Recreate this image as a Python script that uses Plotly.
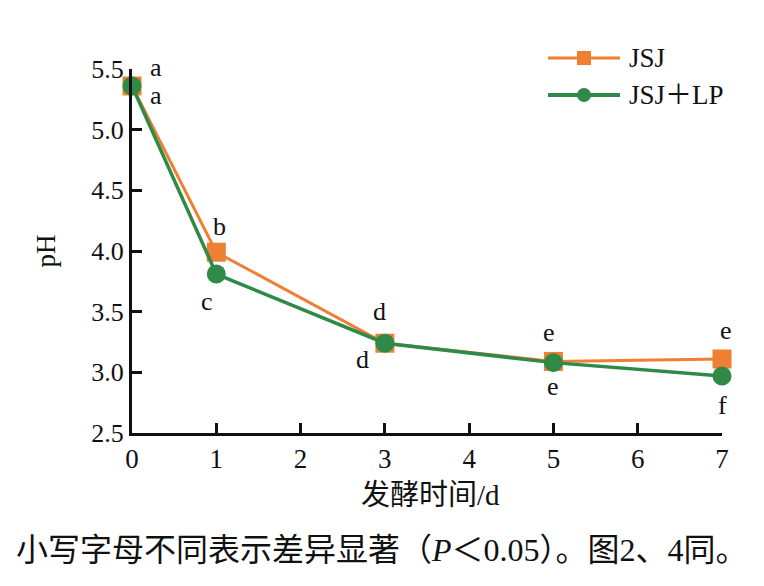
import plotly.graph_objects as go

days = [0, 1, 3, 5, 7]
jsj = [5.36, 3.99, 3.24, 3.09, 3.11]
jsj_lp = [5.36, 3.81, 3.24, 3.08, 2.97]
jsj_letters = ["a", "b", "d", "e", "e"]
lp_letters = ["a", "c", "d", "e", "f"]
series_names = ["JSJ", "JSJ＋LP"]
y_ticks = [2.5, 3.0, 3.5, 4.0, 4.5, 5.0, 5.5]
x_ticks = [0, 1, 2, 3, 4, 5, 6, 7]

ORANGE = "#EE7F33"
GREEN = "#2E8A46"
FONT = "'Liberation Serif', 'Noto Sans CJK SC', serif"
INK = "#111111"

fig = go.Figure()
fig.add_trace(go.Scatter(x=days, y=jsj, name=series_names[0], mode="lines+markers",
                         line=dict(color=ORANGE, width=3),
                         marker=dict(symbol="square", size=19, color=ORANGE),
                         cliponaxis=False, showlegend=False))
fig.add_trace(go.Scatter(x=days, y=jsj_lp, name=series_names[1], mode="lines+markers",
                         line=dict(color=GREEN, width=3.5),
                         marker=dict(symbol="circle", size=19, color=GREEN),
                         cliponaxis=False, showlegend=False))

# significance letters (pixel offsets from each point)
jsj_off = [(24, 18), (3, 26), (-5, 32), (-4, 29), (4, 28)]
lp_off = [(24, -10), (-9, -27), (-22, -16), (0, -24), (0, -30)]
for x, y, t, (dx, dy) in zip(days, jsj, jsj_letters, jsj_off):
    fig.add_annotation(x=x, y=y, text=t, showarrow=False, xshift=dx, yshift=dy,
                       font=dict(size=26, color=INK, family=FONT))
for x, y, t, (dx, dy) in zip(days, jsj_lp, lp_letters, lp_off):
    fig.add_annotation(x=x, y=y, text=t, showarrow=False, xshift=dx, yshift=dy,
                       font=dict(size=26, color=INK, family=FONT))

# manual legend (paper coords)
W, H = 764 - 132 - 42, 586 - 69 - 153
def px(xp):
    return (xp - 132) / W
def py(yp):
    return (586 - 153 - yp) / H
legend_rows = [(58, ORANGE, "square", series_names[0]), (95, GREEN, "circle", series_names[1])]
for yy, col, sym, name in legend_rows:
    fig.add_shape(type="line", xref="paper", yref="paper", x0=px(548), x1=px(620),
                  y0=py(yy), y1=py(yy), line=dict(color=col, width=4 if sym == "circle" else 3))
    fig.add_shape(type="rect" if sym == "square" else "circle", xref="paper", yref="paper",
                  xsizemode="pixel", ysizemode="pixel", xanchor=px(584), yanchor=py(yy),
                  x0=-7, x1=7, y0=-7, y1=7, fillcolor=col, line=dict(width=0))
    fig.add_annotation(xref="paper", yref="paper", x=px(627), y=py(yy), xanchor="left",
                       yanchor="middle", text=name, showarrow=False,
                       font=dict(size=27, color=INK, family=FONT))

fig.add_annotation(xref="paper", yref="paper", x=px(430), y=py(495), yanchor="middle",
                   text="发酵时间/d", showarrow=False,
                   font=dict(size=29, color=INK, family=FONT))
fig.add_annotation(xref="paper", yref="paper", x=px(14), y=py(550), xanchor="left", yanchor="middle",
                   text="小写字母不同表示差异显著（<i>P</i>＜0.05）。图2、4同。", showarrow=False,
                   font=dict(size=32, color=INK, family=FONT))

fig.update_layout(
    width=764, height=586,
    margin=dict(l=132, r=42, t=69, b=153),
    paper_bgcolor="white", plot_bgcolor="white",
    font=dict(family=FONT, size=26, color=INK),
    showlegend=False,
    xaxis=dict(range=[0, 7], tickvals=x_ticks, ticks="inside", ticklen=10, tickwidth=3,
               tickcolor=INK, showline=True, linewidth=3, linecolor=INK,
               showgrid=False, zeroline=False, tickfont=dict(size=27)),
    yaxis=dict(range=[2.5, 5.5], tickvals=y_ticks, tickformat=".1f", ticks="inside",
               ticklen=10, tickwidth=3, tickcolor=INK, showline=True, linewidth=3,
               linecolor=INK, showgrid=False, zeroline=False, tickfont=dict(size=26),
               title=dict(text="pH", font=dict(size=27), standoff=28)),
)
fig.write_html("out.html")
